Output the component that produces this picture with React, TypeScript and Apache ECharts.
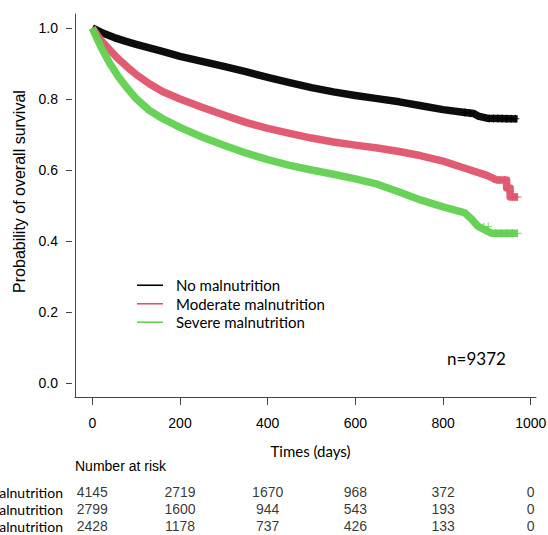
import React, { useEffect, useRef } from "react";
import * as echarts from "echarts";

const groups = ["No malnutrition", "Moderate malnutrition", "Severe malnutrition"];
const colors = ["#000000", "#DF536B", "#61D04F"];
const xTicks = [0, 200, 400, 600, 800, 1000];
const yTicks = [0, 0.2, 0.4, 0.6, 0.8, 1.0];

// Kaplan-Meier curves: [time, survival]
const curveNo = [
  [0, 1.0], [25, 0.985], [50, 0.973], [75, 0.963], [100, 0.954], [130, 0.944], [160, 0.934],
  [200, 0.92], [250, 0.906], [300, 0.892], [350, 0.877], [400, 0.861], [450, 0.846],
  [500, 0.832], [550, 0.82], [600, 0.81], [650, 0.801], [700, 0.792], [750, 0.781],
  [800, 0.77], [850, 0.762], [870, 0.759], [880, 0.752], [900, 0.746], [970, 0.744],
];
const curveModerate = [
  [0, 1.0], [20, 0.965], [40, 0.938], [60, 0.912], [80, 0.89], [100, 0.869], [130, 0.843],
  [160, 0.821], [200, 0.8], [250, 0.777], [300, 0.755], [350, 0.734], [400, 0.717],
  [450, 0.703], [500, 0.69], [550, 0.679], [600, 0.67], [650, 0.662], [700, 0.652],
  [750, 0.64], [800, 0.625], [850, 0.605], [900, 0.585], [922, 0.572], [945, 0.572],
  [945, 0.549], [953, 0.549], [953, 0.524], [970, 0.524],
];
const curveSevere = [
  [0, 1.0], [10, 0.972], [20, 0.946], [40, 0.9], [60, 0.862], [80, 0.83], [100, 0.801],
  [130, 0.768], [160, 0.745], [200, 0.72], [250, 0.693], [300, 0.67], [350, 0.648],
  [400, 0.629], [450, 0.613], [500, 0.6], [550, 0.588], [600, 0.575], [650, 0.56],
  [700, 0.538], [750, 0.515], [800, 0.496], [850, 0.479], [865, 0.462], [880, 0.441],
  [910, 0.422], [970, 0.422],
];

// censoring marks visible at the tails
const censorNo = [[850, 0.762], [862, 0.76], [905, 0.745], [915, 0.745], [925, 0.745], [935, 0.745], [945, 0.744], [955, 0.744], [965, 0.744]];
const censorModerate = [[915, 0.575], [928, 0.572], [940, 0.572], [948, 0.549], [958, 0.524], [964, 0.524], [970, 0.524]];
const censorSevere = [[870, 0.455], [882, 0.44], [893, 0.44], [903, 0.44], [920, 0.422], [932, 0.422], [945, 0.422], [958, 0.422], [970, 0.422]];

// numbers at risk
const riskNo = [4145, 2719, 1670, 968, 372, 0];
const riskModerate = [2799, 1600, 944, 543, 193, 0];
const riskSevere = [2428, 1178, 737, 426, 133, 0];

const plusPath = "path://M7,0H9V16H7Z M0,7H16V9H0Z";
const ARIAL = '"Liberation Sans", Arial, sans-serif';
const GILL = 'Lato, "Noto Sans", sans-serif';

export default function App() {
  const ref = useRef<HTMLDivElement>(null);
  useEffect(() => {
    if (!ref.current) return;
    const chart = echarts.init(ref.current, undefined, { renderer: "svg" });
    const curves = [curveNo, curveModerate, curveSevere];
    const censors = [censorNo, censorModerate, censorSevere];
    const risks = [riskNo, riskModerate, riskSevere];

    const lineSeries = curves.map((c, i) => ({
      name: groups[i],
      type: "line",
      xAxisIndex: 0,
      yAxisIndex: 0,
      data: c,
      showSymbol: false,
      symbol: "none",
      color: colors[i],
      lineStyle: { width: 7.5, color: colors[i], join: "round", opacity: 0.95 },
      emphasis: { disabled: true },
      silent: true,
      z: 2,
    }));
    const censorSeries = censors.map((c, i) => ({
      name: "censor" + i,
      type: "scatter",
      xAxisIndex: 0,
      yAxisIndex: 0,
      data: c,
      symbol: plusPath,
      symbolSize: 8,
      itemStyle: { color: colors[i], opacity: 0.9 },
      silent: true,
      z: 3,
    }));
    const riskData: any[] = [];
    risks.forEach((r, gi) => {
      r.forEach((v, ti) => riskData.push([xTicks[ti], groups[gi], v]));
    });
    const riskSeries = {
      name: "risk",
      type: "scatter",
      xAxisIndex: 1,
      yAxisIndex: 2,
      data: riskData,
      symbolSize: 0,
      silent: true,
      label: {
        show: true,
        position: "inside",
        formatter: (p: any) => String(p.value[2]),
        fontFamily: ARIAL,
        fontSize: 14,
        color: "#000",
      },
    };

    chart.setOption({
      animation: false,
      backgroundColor: "#ffffff",
      grid: [
        { left: 75, top: 14, width: 461, height: 383, outerBoundsMode: "none", containLabel: false },
        { left: 75, top: 483.5, width: 461, height: 51, outerBoundsMode: "none", containLabel: false },
      ],
      xAxis: [
        {
          type: "value",
          gridIndex: 0,
          min: -39.5,
          max: 1012,
          axisLine: { show: true, onZero: false, lineStyle: { color: "#444", width: 1 } },
          axisTick: { show: true, length: 8, customValues: xTicks, lineStyle: { color: "#444" } },
          axisLabel: {
            customValues: xTicks,
            formatter: (v: number) => String(v),
            margin: 19,
            fontSize: 14,
            fontFamily: ARIAL,
            color: "#000",
          },
          splitLine: { show: false },
        },
        { type: "value", gridIndex: 1, min: -39.5, max: 1012, show: false },
      ],
      yAxis: [
        {
          type: "value",
          gridIndex: 0,
          position: "left",
          offset: 3,
          min: -0.0394,
          max: 1.0394,
          axisLine: { show: false, onZero: false },
          axisTick: { show: true, length: 6, customValues: yTicks, lineStyle: { color: "#444" } },
          axisLabel: {
            customValues: yTicks,
            formatter: (v: number) => v.toFixed(1),
            margin: 14,
            fontSize: 14,
            fontFamily: ARIAL,
            color: "#000",
          },
          splitLine: { show: false },
        },
        {
          type: "value",
          gridIndex: 0,
          position: "left",
          offset: 0,
          min: -0.0394,
          max: 1.0394,
          axisLine: { show: true, onZero: false, lineStyle: { color: "#444", width: 1 } },
          axisTick: { show: false },
          axisLabel: { show: false },
          splitLine: { show: false },
        },
        {
          type: "category",
          gridIndex: 1,
          data: groups,
          inverse: true,
          axisLine: { show: false },
          axisTick: { show: false },
          axisLabel: { interval: 0, hideOverlap: false, margin: 12, fontFamily: GILL, fontSize: 14, color: "#000" },
          splitLine: { show: false },
        },
      ],
      legend: {
        data: groups.map((g) => ({ name: g, icon: "rect" })),
        orient: "vertical",
        left: 137,
        top: 276,
        padding: 0,
        icon: "rect",
        itemWidth: 26,
        itemHeight: 1.6,
        itemGap: 0,
        selectedMode: false,
        lineStyle: { width: 0 },
        itemStyle: { borderWidth: 0 },
        textStyle: { fontFamily: GILL, fontSize: 15, color: "#000", lineHeight: 18.5, padding: [0, 0, 0, 8] },
      },
      graphic: [
        {
          type: "text",
          x: 19,
          y: 191.5,
          rotation: Math.PI / 2,
          style: { text: "Probability of overall survival", font: `16px ${ARIAL}`, fill: "#000", align: "center", verticalAlign: "middle" },
        },
        {
          type: "text",
          x: 310.5,
          y: 451,
          style: { text: "Times (days)", font: `15px ${GILL}`, fill: "#000", align: "center", verticalAlign: "middle" },
        },
        {
          type: "text",
          x: 75,
          y: 466,
          style: { text: "Number at risk", font: `14px ${ARIAL}`, fill: "#000", align: "left", verticalAlign: "middle" },
        },
        {
          type: "text",
          x: 476.5,
          y: 358,
          style: { text: "n=9372", font: `17px ${GILL}`, fill: "#000", align: "center", verticalAlign: "middle" },
        },
      ],
      series: [...lineSeries, ...censorSeries, riskSeries],
    });
    return () => chart.dispose();
  }, []);
  return <div ref={ref} style={{ position: "absolute", left: 0, top: 0, width: 548, height: 535 }} />;
}
